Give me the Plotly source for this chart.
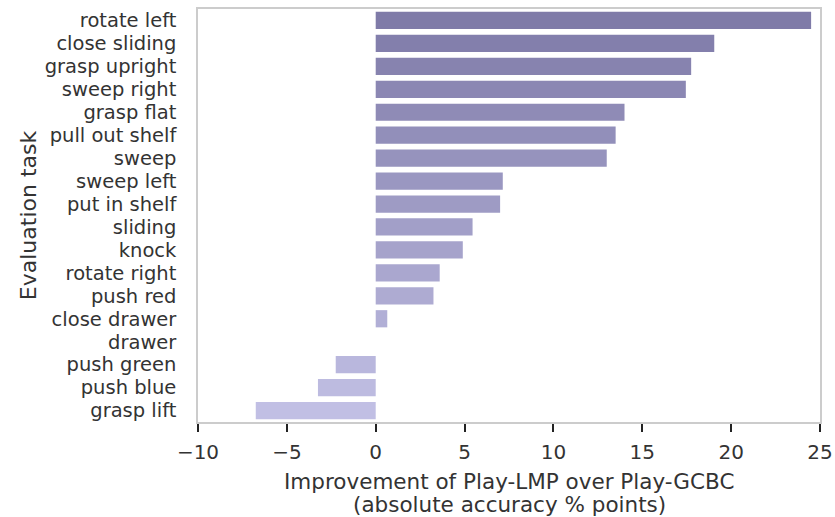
import plotly.graph_objects as go

# Tasks, ordered from largest to smallest improvement
tasks = [
    "rotate left", "close sliding", "grasp upright", "sweep right", "grasp flat",
    "pull out shelf", "sweep", "sweep left", "put in shelf", "sliding", "knock",
    "rotate right", "push red", "close drawer", "drawer", "push green",
    "push blue", "grasp lift",
]
improvement = [
    24.5, 19.05, 17.75, 17.45, 14.0, 13.5, 13.0, 7.15, 7.0, 5.45, 4.9,
    3.6, 3.25, 0.65, 0.0, -2.25, -3.25, -6.75,
]
x_ticks = [-10, -5, 0, 5, 10, 15, 20, 25]
x_title_lines = [
    "Improvement of Play-LMP over Play-GCBC",
    "(absolute accuracy % points)",
]

# Purple shades going from dark (top bar) to light (bottom bar)
dark = (127, 123, 168)
light = (193, 191, 228)
n = len(tasks)
colors = []
for i in range(n):
    t = i / (n - 1)
    r, g, b = (round(d + (l - d) * t) for d, l in zip(dark, light))
    colors.append(f"rgb({r},{g},{b})")

fig = go.Figure(
    go.Bar(
        x=improvement,
        y=tasks,
        orientation="h",
        width=0.75,
        marker=dict(color=colors, line=dict(width=0)),
    )
)

font_family = "DejaVu Sans"
text_color = "#333333"

fig.update_layout(
    width=835,
    height=517,
    margin=dict(l=198, r=15, t=9, b=95, autoexpand=False),
    paper_bgcolor="white",
    plot_bgcolor="white",
    showlegend=False,
    font=dict(family=font_family, size=20, color=text_color),
)

# Two-line x-axis title, set as tight annotations below the tick labels
for line, shift in zip(x_title_lines, [-59, -82]):
    fig.add_annotation(
        text=line,
        xref="paper", yref="paper",
        x=0.5, y=0,
        xanchor="center", yanchor="middle",
        yshift=shift,
        showarrow=False,
        borderpad=0,
        font=dict(size=21.5, color=text_color),
    )

fig.update_xaxes(
    range=[-10, 25],
    tickmode="array",
    tickvals=x_ticks,
    ticktext=[("\u2212" + str(abs(v))) if v < 0 else str(v) for v in x_ticks],
    ticks="outside",
    ticklen=8,
    tickwidth=1.5,
    tickcolor="#222222",
    ticklabelstandoff=3,
    showgrid=False,
    zeroline=False,
    showline=True,
    linecolor="#cccccc",
    linewidth=1.5,
    mirror=True,
    tickfont=dict(size=20, color=text_color),
)

fig.update_yaxes(
    categoryorder="array",
    categoryarray=tasks,
    tickmode="array",
    tickvals=tasks,
    ticktext=tasks,
    autorange="reversed",
    ticks="",
    showgrid=False,
    zeroline=False,
    showline=True,
    linecolor="#cccccc",
    linewidth=1.5,
    mirror=True,
    ticklabelstandoff=16,
    tickfont=dict(size=19.5, color=text_color),
    title=dict(text="Evaluation task", font=dict(size=22, color=text_color), standoff=2),
)

fig.write_html("out.html")
